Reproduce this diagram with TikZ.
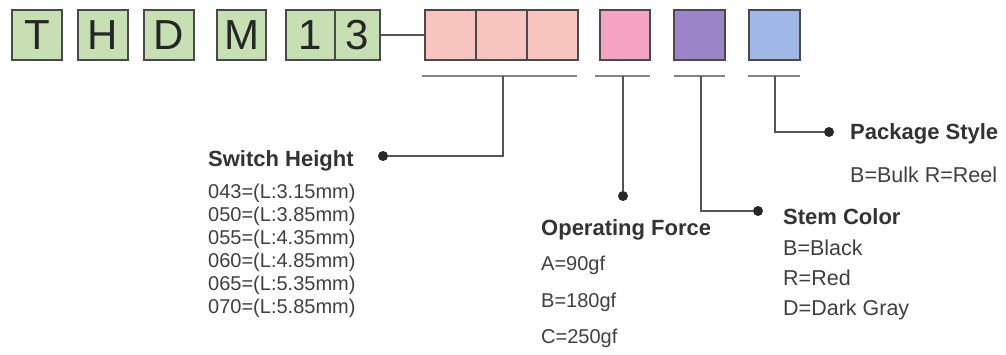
\documentclass[tikz,border=0pt]{standalone}
\usepackage{fontspec}
\setmainfont{Liberation Sans}
\definecolor{boxgreen}{HTML}{C6E0B4}
\definecolor{boxpink}{HTML}{F8C4BE}
\definecolor{boxrose}{HTML}{F4A3C1}
\definecolor{boxpurple}{HTML}{9B84C8}
\definecolor{boxblue}{HTML}{A0B8E8}
\definecolor{edge}{HTML}{4A4A4A}
\definecolor{ulgray}{HTML}{858585}
\definecolor{conngray}{HTML}{555555}
\begin{document}
\begin{tikzpicture}[x=1pt,y=-1pt,
  codebox/.style={draw=edge, line width=1.8pt, minimum height=50pt, inner sep=0pt},
  letterbox/.style={codebox, fill=boxgreen, text=black!85, font=\fontsize{42}{42}\selectfont},
  underline/.style={draw=ulgray, line width=2.8pt},
  conn/.style={draw=conngray, line width=2pt},
  dot/.style={circle, fill=black!85, inner sep=0pt, minimum size=10pt},
  head/.style={anchor=base west, inner sep=0pt, text=black!80, font=\bfseries\fontsize{22}{22}\selectfont},
  body/.style={anchor=base west, inner sep=0pt, text=black!75, font=\fontsize{20}{20}\selectfont},
  bodyw/.style={body, font=\fontsize{21.5}{21.5}\selectfont}]
\useasboundingbox (0,0) rectangle (1006,354);
\fill[white] (0,0) rectangle (1006,354);

% code letter boxes
\node[letterbox, minimum width=50pt] (bT) at (37,35) {T};
\node[letterbox, minimum width=50pt] (bH) at (103,35) {H};
\node[letterbox, minimum width=50pt] (bD) at (169,35) {D};
\node[letterbox, minimum width=49pt] (bM) at (241.5,35) {M};
\node[letterbox, minimum width=49pt] (b1) at (310.5,35) {1};
\node[letterbox, minimum width=45pt] (b3) at (357.5,35) {3};

% option boxes
\node[codebox, fill=boxpink, minimum width=51pt] (p1) at (450.5,35) {};
\node[codebox, fill=boxpink, minimum width=51pt] (p2) at (501.5,35) {};
\node[codebox, fill=boxpink, minimum width=51pt] (p3) at (552.5,35) {};
\node[codebox, fill=boxrose, minimum width=50pt] (rs) at (625,35) {};
\node[codebox, fill=boxpurple, minimum width=51pt] (pu) at (699.5,35) {};
\node[codebox, fill=boxblue, minimum width=51pt] (bl) at (774.5,35) {};

\draw[conn] (b3.east) -- (p1.west);

% underlines
\draw[underline] (422,76) -- (577,76);
\draw[underline] (595,76) -- (650,76);
\draw[underline] (674,76) -- (725,76);
\draw[underline] (748,76) -- (800,76);
\coordinate (u1) at (503,76);
\coordinate (u2) at (623,76);
\coordinate (u3) at (701,76);
\coordinate (u4) at (775,76);

% dots
\node[dot] (d1) at (383,156) {};
\node[dot] (d2) at (623,196) {};
\node[dot] (d3) at (758,211) {};
\node[dot] (d4) at (829,132) {};

\draw[conn] (u1) |- (d1);
\draw[conn] (u2) -- (d2);
\draw[conn] (u3) |- (d3);
\draw[conn] (u4) |- (d4);

% Switch Height
\node[head] (sh) at (208,166) {Switch Height};
\node[body] (sh1) at (208,198) {043=(L:3.15mm)};
\node[body] (sh2) at (208,221) {050=(L:3.85mm)};
\node[body] (sh3) at (208,244) {055=(L:4.35mm)};
\node[body] (sh4) at (208,267) {060=(L:4.85mm)};
\node[body] (sh5) at (208,290) {065=(L:5.35mm)};
\node[body] (sh6) at (208,313) {070=(L:5.85mm)};

% Operating Force
\node[head] (of) at (541,235) {Operating Force};
\node[body] (of1) at (541,270) {A=90gf};
\node[body] (of2) at (541,307) {B=180gf};
\node[body] (of3) at (541,343) {C=250gf};

% Stem Color
\node[head] (sc) at (783,224) {Stem Color};
\node[bodyw] (sc1) at (783,255) {B=Black};
\node[bodyw] (sc2) at (783,285) {R=Red};
\node[bodyw] (sc3) at (783,315) {D=Dark Gray};

% Package Style
\node[head] (ps) at (850,139) {Package Style};
\node[bodyw] (ps1) at (850,182) {B=Bulk R=Reel};
\end{tikzpicture}
\end{document}
